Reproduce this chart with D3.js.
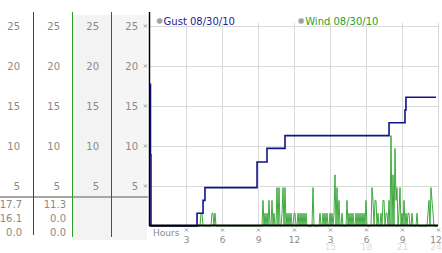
<!DOCTYPE html>
<html>
<head>
<meta charset="utf-8">
<script src="https://cdn.jsdelivr.net/npm/d3@7"></script>
<style>
  body { margin: 0; background: #fff; }
  text { font-family: "DejaVu Sans", Verdana, sans-serif; }
</style>
</head>
<body>
<div id="chart"></div>
<script>
// readings, hours since midnight on 08/30/10
const gustHours  = [0, 0.04, 0.08, 3.92, 4.42, 4.58, 8.92, 9.75, 11.25, 19.92, 21.25, 21.33, 23.83];
const gustSpeeds = [17.7, 8.9, 0, 1.6, 3.2, 4.8, 8.0, 9.7, 11.3, 12.9, 14.5, 16.1, 16.1];

// wind samples every 5 minutes, only the non calm ones listed (minute of day)
const windMinutes = [255, 260, 310, 315, 325, 565, 575, 585, 595, 610, 620, 635, 645, 660, 665, 675, 685,
  695, 705, 720, 725, 740, 750, 760, 770, 780, 815, 850, 865, 875, 885, 900, 910, 920, 925, 935, 945, 960,
  985, 995, 1005, 1015, 1030, 1040, 1050, 1060, 1070, 1080, 1110, 1115, 1125, 1130, 1140, 1155, 1165, 1170,
  1180, 1185, 1195, 1205, 1215, 1225, 1230, 1235, 1245, 1250, 1260, 1270, 1280, 1290, 1295, 1310, 1335,
  1390, 1395, 1405, 1410, 1415];
const windSpeeds = [1.6, 1.6, 1.6, 1.6, 1.6, 3.2, 1.6, 1.6, 3.2, 3.2, 1.6, 4.8, 4.8, 1.6, 4.8, 4.8, 1.6,
  1.6, 1.6, 1.6, 1.6, 1.6, 1.6, 1.6, 1.6, 1.6, 4.8, 1.6, 1.6, 1.6, 1.6, 1.6, 1.6, 1.6, 6.4, 4.8, 3.2, 1.6,
  3.2, 1.6, 1.6, 1.6, 1.6, 1.6, 1.6, 1.6, 1.6, 3.2, 4.8, 3.2, 3.2, 3.2, 1.6, 1.6, 3.2, 3.2,
  1.6, 1.6, 3.2, 11.3, 6.4, 9.7, 3.2, 4.8, 1.6, 4.8, 1.6, 3.2, 1.6, 1.6, 1.6, 1.6, 1.6,
  1.6, 3.2, 4.8, 3.2, 1.6];

const yTicks = [5, 10, 15, 20, 25];
const hourTicks = [3, 6, 9, 12, 15, 18, 21, 24];
const hourLabels = ["3", "6", "9", "12", "3", "6", "9", "12"];
const hourLabels24 = ["", "", "", "", "15", "18", "21", "24"];

const gustStats = ["17.7", "16.1", "0.0"];   // max, now, min
const windStats = ["11.3", "0.0", "0.0"];

const legend = [
    { label: "Gust 08/30/10", color: "#1c1c94" },
    { label: "Wind 08/30/10", color: "#2a9e2a" }
];

const width = 442, height = 253;
const fontFamily = "'DejaVu Sans', Verdana, sans-serif";

const x = d3.scaleLinear().domain([0, 24]).range([150, 438]);
const y = d3.scaleLinear().domain([0, 25]).range([226, 26]);

const svg = d3.select("#chart")
    .append("svg")
    .attr("width", width)
    .attr("height", height);

// left side panel: shaded columns
svg.append("rect").attr("x", 73).attr("y", 15).attr("width", 38).attr("height", 225).attr("fill", "#f3f3f3");
svg.append("rect").attr("x", 112).attr("y", 15).attr("width", 35).attr("height", 225).attr("fill", "#f5f5f5");

// tick labels in every column
const colRights = [20, 60, 99, 138];
colRights.forEach(cx => {
    const g = svg.append("g")
        .attr("transform", `translate(${cx}, 0)`)
        .call(d3.axisLeft(y).tickValues(yTicks).tickSize(0).tickPadding(0));
    g.select(".domain").remove();
    g.selectAll("text")
        .attr("fill", "#8a8a8a")
        .style("font-size", "10px")
        .style("font-family", fontFamily);
});

// little tick marks on the left of the plot
const markPath = "M-1.5,-1.5L1.5,1.5M1.5,-1.5L-1.5,1.5";
svg.selectAll(".ymark")
    .data(yTicks)
    .enter()
    .append("path")
    .attr("class", "ymark")
    .attr("d", markPath)
    .attr("transform", d => `translate(145.5, ${y(d)})`)
    .attr("stroke", "#9a9a9a")
    .attr("stroke-width", 1)
    .attr("fill", "none");

// separator over the stats
svg.append("line")
    .attr("x1", 0).attr("x2", 148)
    .attr("y1", 197).attr("y2", 197)
    .attr("stroke", "#a6a6a6")
    .attr("stroke-width", 2);

// stats under the separator
const statRows = [208, 222, 236];
svg.selectAll(".gstat")
    .data(gustStats)
    .enter()
    .append("text")
    .attr("x", 22)
    .attr("y", (d, i) => statRows[i])
    .attr("text-anchor", "end")
    .attr("font-size", 10)
    .attr("fill", "#8a8a8a")
    .text(d => d);
svg.selectAll(".wstat")
    .data(windStats)
    .enter()
    .append("text")
    .attr("x", 66)
    .attr("y", (d, i) => statRows[i])
    .attr("text-anchor", "end")
    .attr("font-size", 10)
    .attr("fill", "#8a8a8a")
    .text(d => d);

// coloured column dividers
svg.append("line").attr("x1", 33.5).attr("x2", 33.5).attr("y1", 12).attr("y2", 235).attr("stroke", "#1f3f9f").attr("stroke-width", 1);
svg.append("line").attr("x1", 72.5).attr("x2", 72.5).attr("y1", 12).attr("y2", 237).attr("stroke", "#2d9e2d").attr("stroke-width", 1);
svg.append("line").attr("x1", 111.5).attr("x2", 111.5).attr("y1", 12).attr("y2", 237).attr("stroke", "#a52a2a").attr("stroke-width", 1);

// grid
svg.selectAll(".hgrid")
    .data(yTicks)
    .enter()
    .append("line")
    .attr("x1", x(0)).attr("x2", x(24))
    .attr("y1", d => y(d) + 0.5).attr("y2", d => y(d) + 0.5)
    .attr("stroke", "#dadada");
svg.selectAll(".vgrid")
    .data(hourTicks)
    .enter()
    .append("line")
    .attr("x1", d => x(d) + 0.5).attr("x2", d => x(d) + 0.5)
    .attr("y1", y(25.4)).attr("y2", y(0))
    .attr("stroke", "#dadada");

// wind, calm between the listed samples
const windSeries = d3.range(0, 288).map(i => {
    const k = windMinutes.indexOf(i * 5);
    return [i * 5 / 60, k < 0 ? 0 : windSpeeds[k]];
});

const line = d3.line()
    .x(d => x(d[0]))
    .y(d => y(d[1]));

svg.append("path")
    .attr("d", line(windSeries))
    .attr("stroke", "#2aa02a")
    .attr("stroke-width", 0.9)
    .attr("fill", "none");

const gustLine = d3.line()
    .x(d => x(d[0]))
    .y(d => y(d[1]))
    .curve(d3.curveStepAfter);

svg.append("path")
    .attr("d", gustLine(gustHours.map((h, i) => [h, gustSpeeds[i]])))
    .attr("stroke", "#12128a")
    .attr("stroke-width", 1.6)
    .attr("fill", "none");

// plot axes
svg.append("line").attr("x1", 149.5).attr("x2", 149.5).attr("y1", 12).attr("y2", 226).attr("stroke", "#000").attr("stroke-width", 1.5);
svg.append("line").attr("x1", 149).attr("x2", x(24)).attr("y1", 225.5).attr("y2", 225.5).attr("stroke", "#000").attr("stroke-width", 2);

// x axis labels
svg.append("text")
    .attr("x", 153).attr("y", 236)
    .attr("font-size", 9)
    .attr("fill", "#8a8a8a")
    .text("Hours");

svg.selectAll(".xmark")
    .data(hourTicks)
    .enter()
    .append("path")
    .attr("d", markPath)
    .attr("transform", d => `translate(${x(d) + 0.5}, 230)`)
    .attr("stroke", "#9a9a9a")
    .attr("fill", "none");

function hourAxis(labels, top, color) {
    const g = svg.append("g")
        .attr("transform", `translate(0, ${top})`)
        .call(d3.axisBottom(x).tickValues(hourTicks).tickSize(0).tickPadding(0)
            .tickFormat((d, i) => labels[i]));
    g.select(".domain").remove();
    g.selectAll("text")
        .attr("fill", color)
        .attr("dx", d => d === 24 ? -2.5 : 0)
        .style("font-size", "9px")
        .style("font-family", fontFamily);
}
hourAxis(hourLabels, 236.5, "#8a8a8a");
hourAxis(hourLabels24, 244, "#dcdcdc");

// legend
const legendX = [x(0.8), x(12.6)];
const lg = svg.selectAll(".legend")
    .data(legend)
    .enter()
    .append("g")
    .attr("transform", (d, i) => `translate(${legendX[i]}, 21)`);
lg.append("circle")
    .attr("r", 2.8)
    .attr("fill", "#a0a0a0")
    .attr("stroke", "#c8c8c8")
    .attr("stroke-width", 0.8);
lg.append("text")
    .attr("x", 4)
    .attr("y", 3.6)
    .attr("font-size", 10)
    .attr("fill", d => d.color)
    .text(d => d.label);
</script>
</body>
</html>
